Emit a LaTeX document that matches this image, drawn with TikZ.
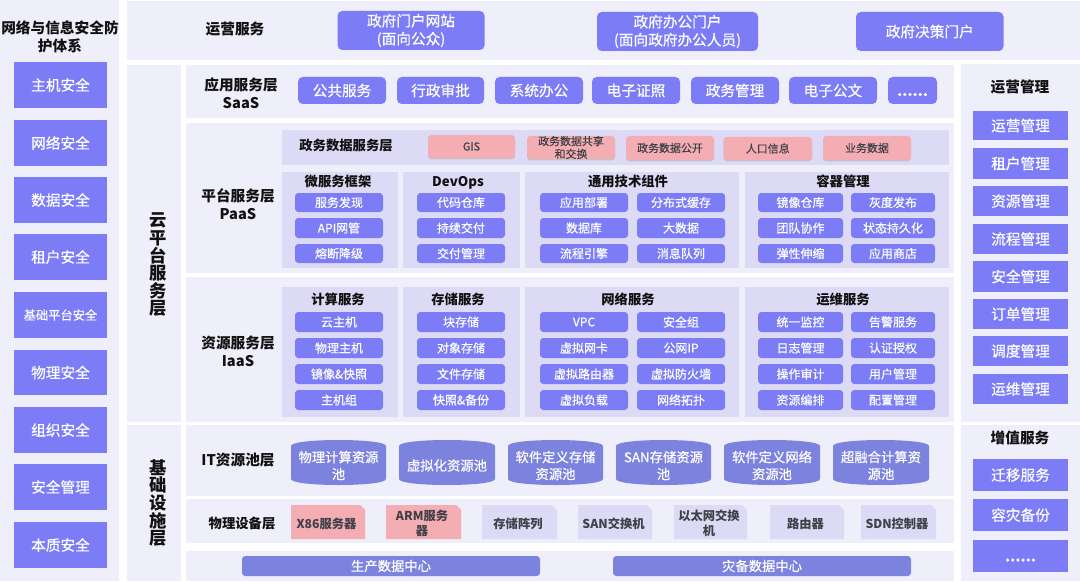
\documentclass[tikz,border=0pt]{standalone}
\usepackage{fontspec}
\setmainfont{Noto Sans CJK SC}
\newfontfamily\medf[FakeBold=0.5]{Noto Sans CJK SC}
\usetikzlibrary{shadows}
\definecolor{panelc}{HTML}{EFEEFB}
\definecolor{subc}{HTML}{DCDAF5}
\definecolor{boxc}{HTML}{7B7CF6}
\definecolor{pinkc}{HTML}{F4ADB2}
\definecolor{cylc}{HTML}{7C83DE}
\definecolor{inkc}{HTML}{111111}
\definecolor{greyc}{HTML}{404048}
\newcount\nn
\newcommand\bx[6]{\global\advance\nn by 1
  \node[#1,minimum width={(#4-(#2))*0.75pt},minimum height={(#5-(#3))*0.75pt}] (b\the\nn) at ({(#2+#4)/2},{(#3+#5)/2}) {#6};}
\newcommand\lbl[4]{\global\advance\nn by 1
  \node[#1] (b\the\nn) at ({#2},{#3}) {#4};}
\newcommand\cyl[5]{\fill[cylc] (#1,#2+6) .. controls (#1,#2-2) and (#3,#2-2) .. (#3,#2+6) -- (#3,#4-6) .. controls (#3,#4+2) and (#1,#4+2) .. (#1,#4-6) -- cycle;
  \lbl{txtcyl}{(#1+#3)/2}{(#2+#4)/2+3}{#5}}
\newcommand\snip[6]{\fill[#1] (#2,#3) -- (#4-5,#3) -- (#4,#3+5) -- (#4,#5) -- (#2,#5) -- cycle;
  \lbl{txtphys}{(#2+#4)/2-1.5}{(#3+#5)/2+1.5}{#6}}
\newcommand\dotsrow{\vphantom{公}\textbf{......}}
\tikzset{
  base/.style={inner sep=0pt,outer sep=0pt,align=center},
  panel/.style={base,fill=panelc},
  subp/.style={base,fill=subc},
  sq/.style={base,fill=boxc,text=white,font=\medf\fontsize{11}{15}\selectfont},
  sqs/.style={sq,font=\medf\fontsize{9.2}{12}\selectfont},
  rbig/.style={base,fill=boxc,rounded corners=3.5pt,text=white,font=\medf\fontsize{11}{13.5}\selectfont},
  rsm/.style={base,fill=boxc,rounded corners=2.5pt,text=white,font=\medf\fontsize{9}{12}\selectfont},
  pink/.style={base,fill=pinkc,rounded corners=2.5pt,text=greyc,font=\medf\fontsize{8.2}{9.6}\selectfont,drop shadow={shadow xshift=0pt,shadow yshift=-1pt,fill=black!30,opacity=.6}},
  head/.style={base,text=inkc,font=\bfseries\fontsize{11}{13.5}\selectfont},
  heads/.style={base,text=inkc,font=\bfseries\fontsize{10}{13}\selectfont},
  vert/.style={base,text=inkc,font=\bfseries\fontsize{13}{13.2}\selectfont},
  txtcyl/.style={base,text=white,font=\medf\fontsize{10}{12.7}\selectfont},
  txtphys/.style={base,text=greyc,font=\bfseries\fontsize{9.2}{10.9}\selectfont},
  dc/.style={base,fill=cylc,rounded corners=2.5pt,text=white,font=\medf\fontsize{10}{13}\selectfont},
}
\begin{document}
\begin{tikzpicture}[x=0.75pt,y=-0.75pt]
\useasboundingbox (0,0) rectangle (1080,581);
\fill[white] (0,0) rectangle (1080,581);
% panels
\bx{panel}{0}{0}{119}{581}{}
\bx{panel}{127}{1}{1080}{60}{}
\bx{panel}{127}{65}{181}{422}{}
\bx{panel}{127}{425}{181}{581}{}
\bx{panel}{186}{65}{954}{118}{}
\bx{panel}{186}{123}{954}{273}{}
\bx{panel}{186}{277}{954}{422}{}
\bx{panel}{186}{425}{954}{496}{}
\bx{panel}{186}{499}{954}{543}{}
\bx{panel}{186}{551}{954}{581}{}
\bx{panel}{961}{64}{1080}{422}{}
\bx{panel}{961}{425}{1080}{581}{}
% sub panels
\bx{subp}{282}{130}{949}{165}{}
\bx{subp}{282}{172}{398}{268}{}
\bx{subp}{403}{172}{520}{268}{}
\bx{subp}{525}{172}{739}{268}{}
\bx{subp}{745}{172}{949}{268}{}
\bx{subp}{282}{287}{398}{417}{}
\bx{subp}{403}{287}{520}{417}{}
\bx{subp}{525}{287}{739}{417}{}
\bx{subp}{745}{287}{949}{417}{}
% left column
\lbl{head}{60}{37}{网络与信息安全防\\护体系}
\bx{sq}{14}{62}{107}{108}{主机安全}
\bx{sq}{14}{120}{107}{166}{网络安全}
\bx{sq}{14}{177}{107}{223}{数据安全}
\bx{sq}{14}{234}{107}{280}{租户安全}
\bx{sqs}{14}{292}{107}{338}{基础平台安全}
\bx{sq}{14}{350}{107}{395}{物理安全}
\bx{sq}{14}{407}{107}{453}{组织安全}
\bx{sq}{14}{464}{107}{510}{安全管理}
\bx{sq}{14}{522}{107}{568}{本质安全}
% top row
\lbl{head}{235}{29}{运营服务}
\bx{rbig}{337.5}{11}{484.5}{50}{政府门户网站\\(面向公众)}
\bx{rbig}{597}{12}{758}{51}{政府办公门户\\(面向政府办公人员)}
\bx{rbig}{856}{12}{1003.5}{51}{政府决策门户}
% vertical
\lbl{vert}{158}{265}{云\\平\\台\\服\\务\\层}
\lbl{vert}{158}{503}{基\\础\\设\\施\\层}
% SaaS
\lbl{head}{241}{93}{应用服务层\\SaaS}
\bx{rbig}{298}{77}{386}{104}{公共服务}
\bx{rbig}{397}{77}{484}{104}{行政审批}
\bx{rbig}{495}{77}{583}{104}{系统办公}
\bx{rbig}{592}{77}{680}{104}{电子证照}
\bx{rbig}{691}{77}{779}{104}{政务管理}
\bx{rbig}{789}{77}{877}{104}{电子公文}
\bx{rbig}{888}{77}{937}{104}{\dotsrow}
% PaaS
\lbl{head}{238}{204}{平台服务层\\PaaS}
\lbl{heads}{346}{146}{政务数据服务层}
\bx{pink}{428}{135}{515}{158}{GIS}
\bx{pink}{527}{136}{615}{159}{政务数据共享\\和交换}
\bx{pink}{626}{136}{714}{160}{政务数据公开}
\bx{pink}{723.5}{137}{812}{160}{人口信息}
\bx{pink}{823}{136}{911}{160}{业务数据}
\lbl{heads}{338}{181}{微服务框架}
\lbl{heads}{458}{183}{DevOps}
\lbl{heads}{628}{181}{通用技术组件}
\lbl{heads}{843}{181}{容器管理}
\bx{rsm}{295}{193}{383}{212}{服务发现}
\bx{rsm}{295}{218}{383}{238}{API网管}
\bx{rsm}{295}{244}{383}{263}{熔断降级}
\bx{rsm}{417}{193}{505}{212}{代码仓库}
\bx{rsm}{417}{218}{505}{238}{持续交付}
\bx{rsm}{417}{244}{505}{263}{交付管理}
\bx{rsm}{540}{193}{628}{212}{应用部署}
\bx{rsm}{540}{218}{628}{238}{数据库}
\bx{rsm}{540}{244}{628}{263}{流程引擎}
\bx{rsm}{637}{193}{725}{212}{分布式缓存}
\bx{rsm}{637}{218}{725}{238}{大数据}
\bx{rsm}{637}{244}{725}{263}{消息队列}
\bx{rsm}{758}{193}{843}{212}{镜像仓库}
\bx{rsm}{758}{218}{843}{238}{团队协作}
\bx{rsm}{758}{244}{843}{263}{弹性伸缩}
\bx{rsm}{851}{193}{935}{212}{灰度发布}
\bx{rsm}{851}{218}{935}{238}{状态持久化}
\bx{rsm}{851}{244}{935}{263}{应用商店}
% IaaS
\lbl{head}{238}{351}{资源服务层\\IaaS}
\lbl{heads}{338}{299}{计算服务}
\lbl{heads}{458}{299}{存储服务}
\lbl{heads}{628}{299}{网络服务}
\lbl{heads}{843}{299}{运维服务}
\bx{rsm}{295}{312}{383}{332}{云主机}
\bx{rsm}{295}{338}{383}{358}{物理主机}
\bx{rsm}{295}{364}{383}{384}{镜像\&快照}
\bx{rsm}{295}{390}{383}{410}{主机组}
\bx{rsm}{417}{312}{505}{332}{块存储}
\bx{rsm}{417}{338}{505}{358}{对象存储}
\bx{rsm}{417}{364}{505}{384}{文件存储}
\bx{rsm}{417}{390}{505}{410}{快照\&备份}
\bx{rsm}{540}{312}{628}{332}{VPC}
\bx{rsm}{540}{338}{628}{358}{虚拟网卡}
\bx{rsm}{540}{364}{628}{384}{虚拟路由器}
\bx{rsm}{540}{390}{628}{410}{虚拟负载}
\bx{rsm}{637}{312}{725}{332}{安全组}
\bx{rsm}{637}{338}{725}{358}{公网IP}
\bx{rsm}{637}{364}{725}{384}{虚拟防火墙}
\bx{rsm}{637}{390}{725}{410}{网络拓扑}
\bx{rsm}{758}{312}{843}{332}{统一监控}
\bx{rsm}{758}{338}{843}{358}{日志管理}
\bx{rsm}{758}{364}{843}{384}{操作审计}
\bx{rsm}{758}{390}{843}{410}{资源编排}
\bx{rsm}{851}{312}{935}{332}{告警服务}
\bx{rsm}{851}{338}{935}{358}{认证授权}
\bx{rsm}{851}{364}{935}{384}{用户管理}
\bx{rsm}{851}{390}{935}{410}{配置管理}
% IT pool
\lbl{head}{238}{460}{IT资源池层}
\cyl{291}{440}{386}{485}{物理计算资源\\池}
\cyl{399}{440}{495}{485}{虚拟化资源池}
\cyl{508}{440}{603}{485}{软件定义存储\\资源池}
\cyl{616}{440}{711}{485}{SAN存储资源\\池}
\cyl{724}{440}{820}{485}{软件定义网络\\资源池}
\cyl{833}{440}{929}{485}{超融合计算资\\源池}
% physical
\lbl{heads}{242}{523}{物理设备层}
\snip{pinkc}{291}{505}{365}{539}{X86服务器}
\snip{pinkc}{386}{505}{461}{539}{ARM服务\\器}
\snip{subc}{482}{505}{557}{539}{存储阵列}
\snip{subc}{578}{505}{652}{539}{SAN交换机}
\snip{subc}{674}{505}{747}{539}{以太网交换\\机}
\snip{subc}{770}{505}{844}{539}{路由器}
\snip{subc}{861}{505}{936}{539}{SDN控制器}
% data centres
\bx{dc}{242}{556}{540}{576}{生产数据中心}
\bx{dc}{613}{556}{911}{576}{灾备数据中心}
% right column
\lbl{head}{1020}{87}{运营管理}
\bx{sq}{973}{111}{1068}{140}{运营管理}
\bx{sq}{973}{148}{1068}{179}{租户管理}
\bx{sq}{973}{186}{1068}{216}{资源管理}
\bx{sq}{973}{224}{1068}{254}{流程管理}
\bx{sq}{973}{261}{1068}{292}{安全管理}
\bx{sq}{973}{299}{1068}{329}{订单管理}
\bx{sq}{973}{336}{1068}{366}{调度管理}
\bx{sq}{973}{374}{1068}{404}{运维管理}
\lbl{head}{1020}{438}{增值服务}
\bx{sq}{973}{459}{1068}{491}{迁移服务}
\bx{sq}{973}{499}{1068}{531}{容灾备份}
\bx{sq}{973}{540}{1068}{572}{\dotsrow}
\end{tikzpicture}
\end{document}
